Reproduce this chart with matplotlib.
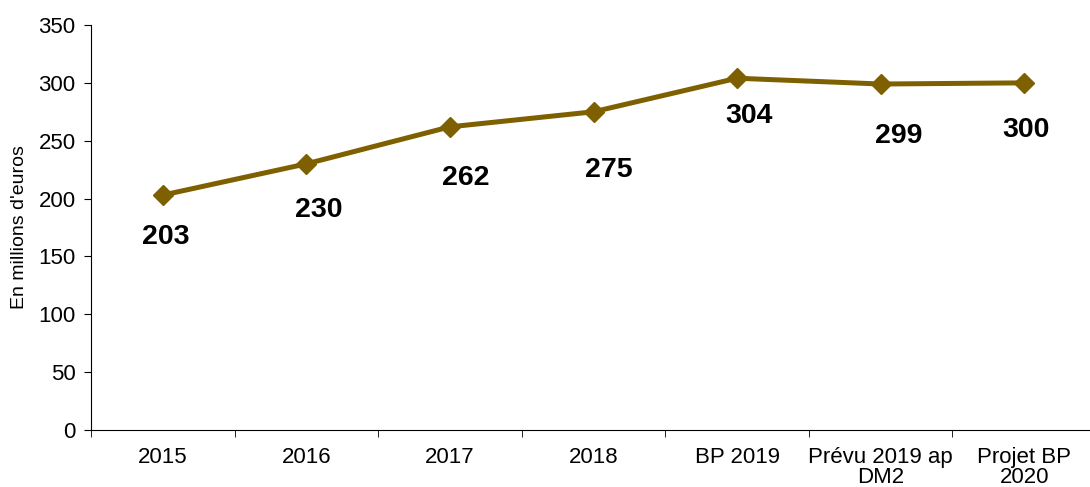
import numpy as np
import matplotlib
matplotlib.use("Agg")
from matplotlib import pyplot as plt

plt.rcParams['font.family'] = ['Liberation Sans', 'DejaVu Sans']

categories = ["2015", "2016", "2017", "2018", "BP 2019", "Prévu 2019 ap\nDM2", "Projet BP\n2020"]
values = [203, 230, 262, 275, 304, 299, 300]
labels = ["203", "230", "262", "275", "304", "299", "300"]

# label offsets in pixels (dx, dy below point)
label_dx = [3, 12, 16, 15, 12, 18, 2]
label_dy = [42, 46, 51, 58, 38, 52, 47]

line_color = "#7F6000"

fig = plt.figure(figsize=(10.9, 4.87), dpi=100)
ax = fig.add_axes([91/1090, 57/487, 1005/1090, 405/487])

x = np.arange(len(categories))
ax.plot(x, values, color=line_color, linewidth=3.6, marker='D', markersize=10,
        markerfacecolor=line_color, markeredgecolor=line_color, clip_on=False)

for i, v in enumerate(values):
    ax.annotate(labels[i], (x[i], v), xytext=(label_dx[i] * 0.72, -label_dy[i] * 0.72),
                textcoords='offset points', ha='center', va='center',
                fontsize=20.5, fontweight='bold', color='black')

ax.set_xlim(-0.5, len(categories) - 0.5)
ax.set_ylim(0, 350)
ax.set_yticks(np.arange(0, 351, 50))
ax.set_xticks(x)
ax.set_xticklabels(categories, fontsize=16, linespacing=0.95)
ax.set_xticks(np.arange(-0.5, len(categories), 1), minor=True)
ax.tick_params(axis='x', which='major', length=0, pad=12)
ax.tick_params(axis='x', which='minor', length=5, direction='out')
ax.tick_params(axis='y', labelsize=16, length=5, direction='out', pad=6)
ax.set_ylabel("En millions d'euros", fontsize=14)
ax.yaxis.set_label_coords(-0.063, 0.5)

ax.spines['top'].set_visible(False)
ax.spines['right'].set_visible(False)

fig.savefig("out.png", dpi=100)
